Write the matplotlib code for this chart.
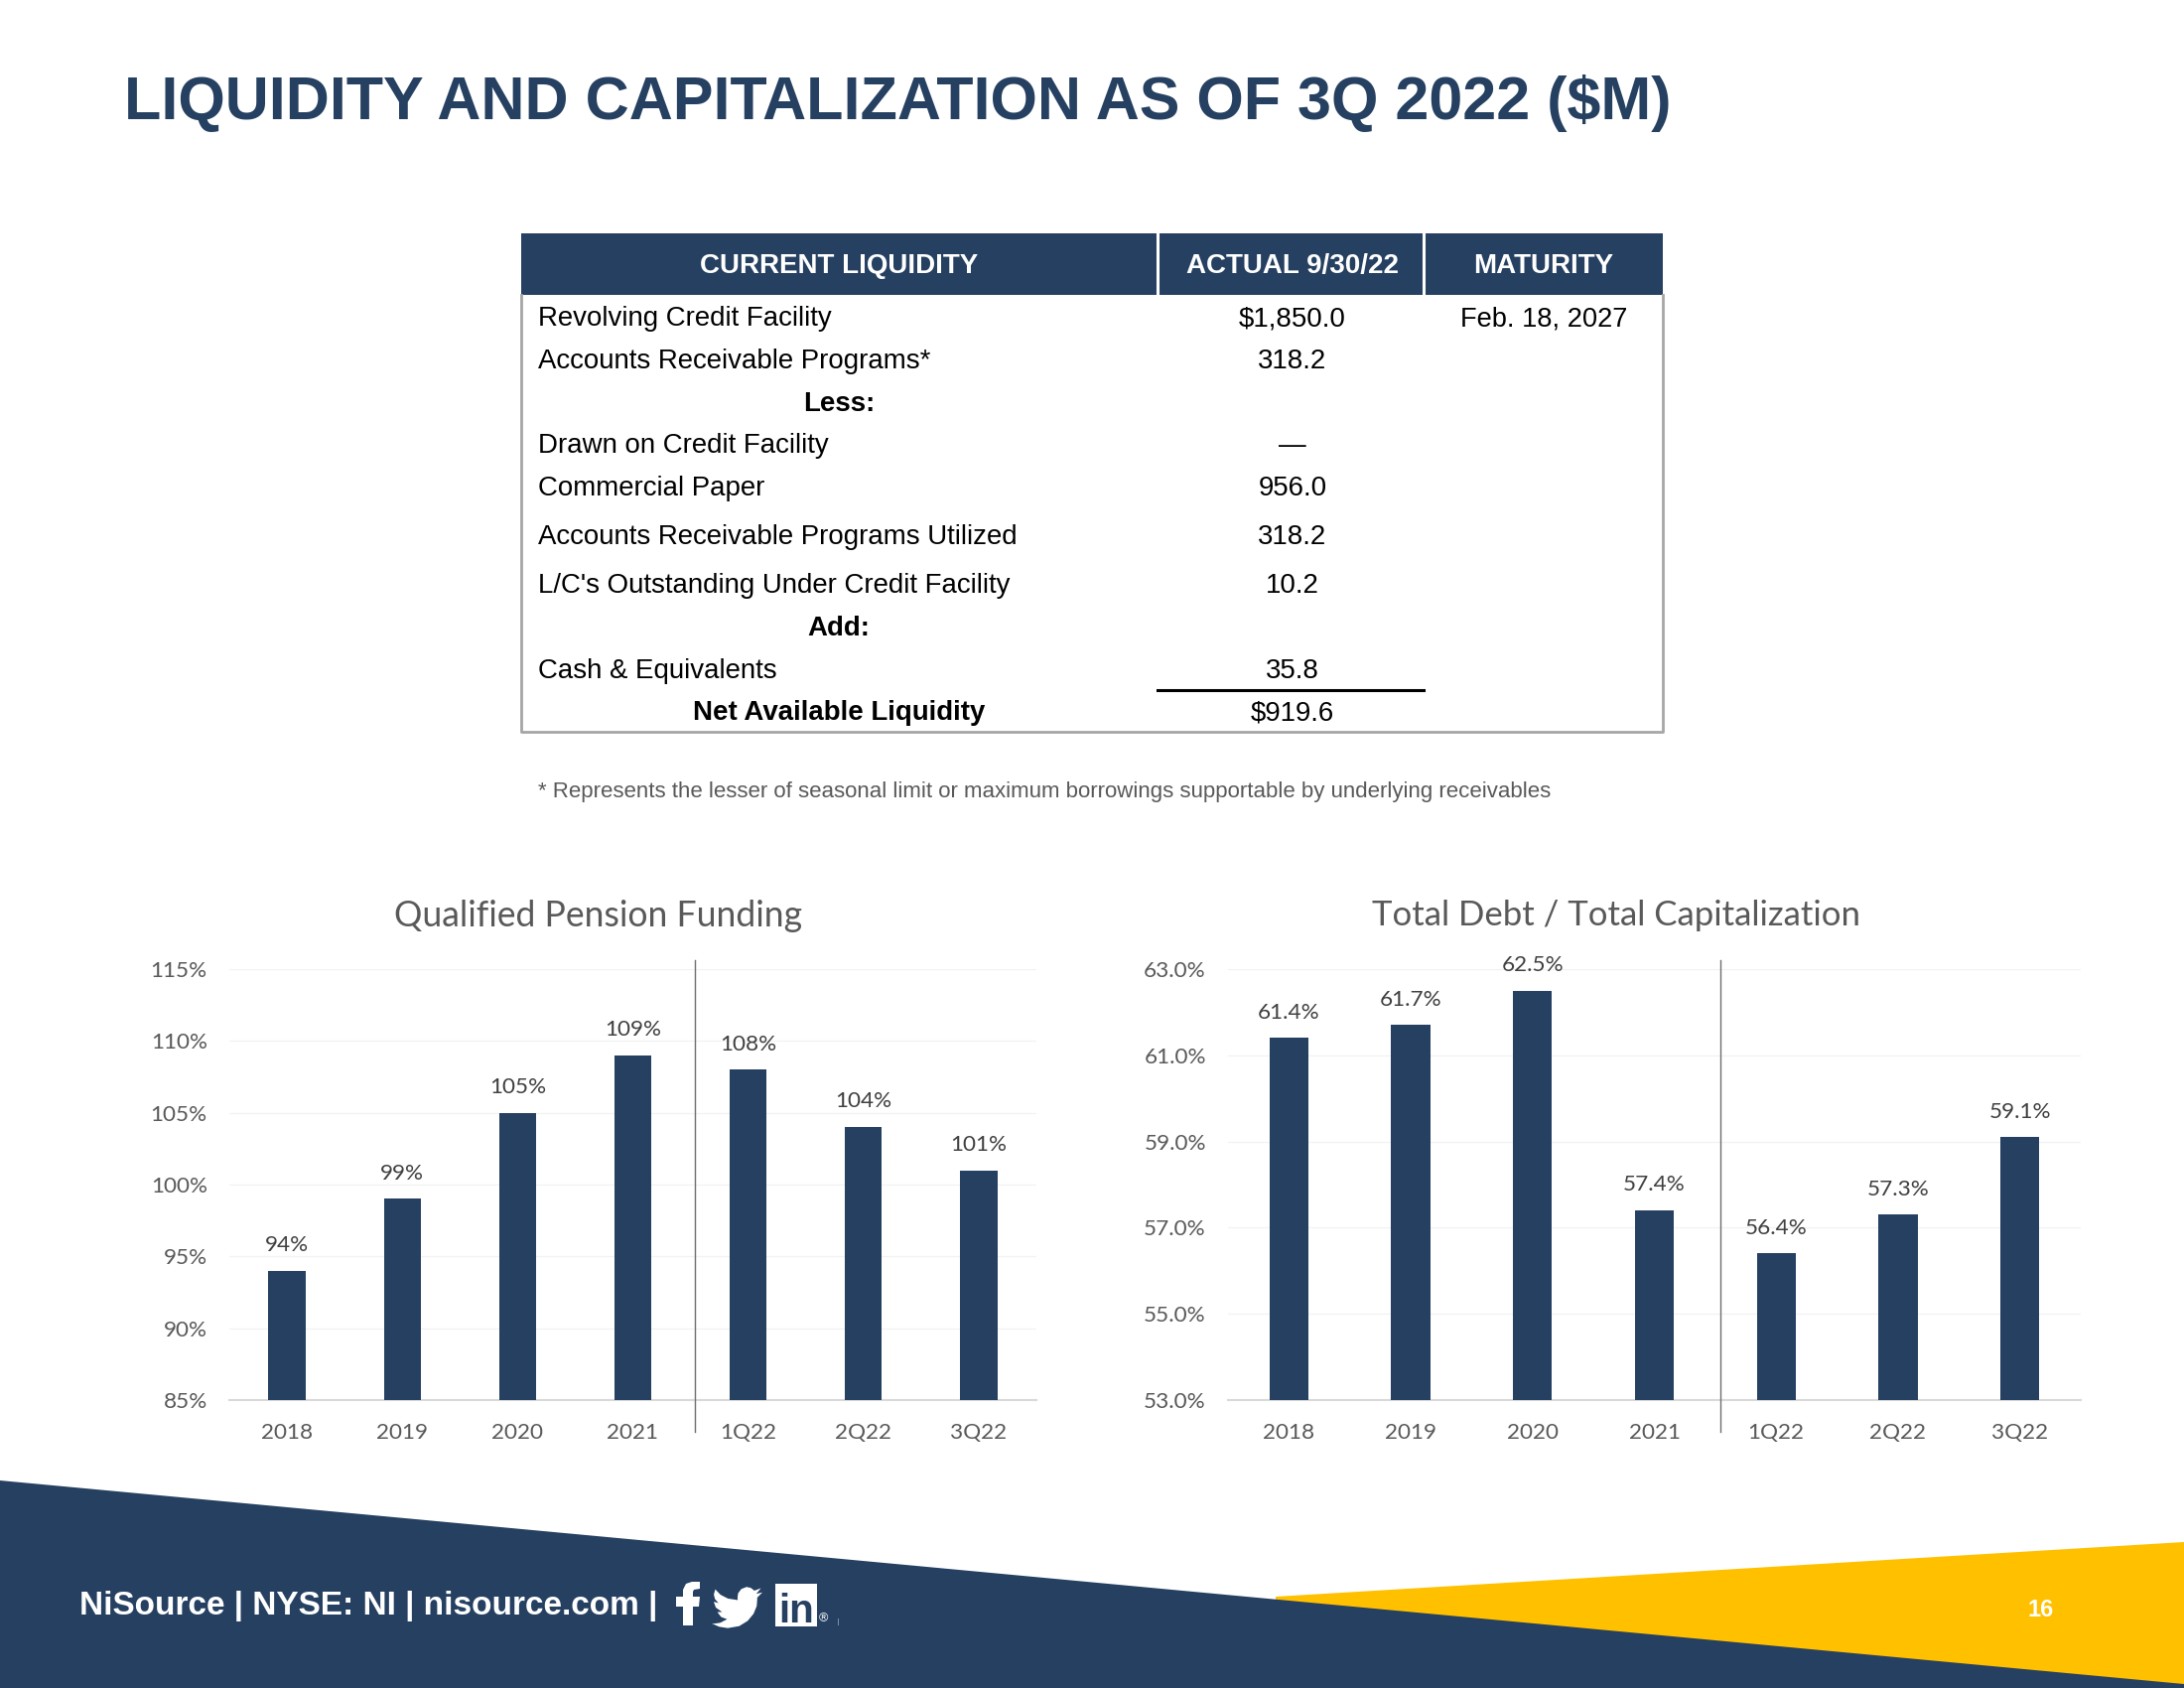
import matplotlib
matplotlib.use("Agg")
import matplotlib.pyplot as plt
from matplotlib.patches import Polygon, Rectangle
from matplotlib.lines import Line2D
import numpy as np

NAVY = "#264061"
GOLD = "#FFC000"
GRAY = "#595959"
SANS = "Liberation Sans"
CHART = "Lato"

# ---- data ----
title_text = "LIQUIDITY AND CAPITALIZATION AS OF 3Q 2022 ($M)"
table_headers = ["CURRENT LIQUIDITY", "ACTUAL 9/30/22", "MATURITY"]
row_labels = ["Revolving Credit Facility", "Accounts Receivable Programs*", "Less:",
              "Drawn on Credit Facility", "Commercial Paper",
              "Accounts Receivable Programs Utilized",
              "L/C's Outstanding Under Credit Facility", "Add:",
              "Cash & Equivalents", "Net Available Liquidity"]
row_actual = ["$1,850.0", "318.2", "", "—", "956.0", "318.2", "10.2", "", "35.8", "$919.6"]
row_maturity = ["Feb. 18, 2027", "", "", "", "", "", "", "", "", ""]
bold_rows = ["Less:", "Add:", "Net Available Liquidity"]
footnote = "* Represents the lesser of seasonal limit or maximum borrowings supportable by underlying receivables"

categories = ["2018", "2019", "2020", "2021", "1Q22", "2Q22", "3Q22"]
pension_values = [94, 99, 105, 109, 108, 104, 101]
pension_ticks = [85, 90, 95, 100, 105, 110, 115]
debt_values = [61.4, 61.7, 62.5, 57.4, 56.4, 57.3, 59.1]
debt_ticks = [53, 55, 57, 59, 61, 63]

pension_title = "Qualified Pension Funding"
debt_title = "Total Debt / Total Capitalization"
footer_text = "NiSource | NYSE: NI | nisource.com |"
page_number = "16"

# ---- layout ----
W, H = 2200, 1700
fig = plt.figure(figsize=(22, 17), dpi=100, facecolor="white")
bg = fig.add_axes([0, 0, 1, 1], zorder=0)
bg.set_xlim(0, W); bg.set_ylim(H, 0); bg.axis("off")

bg.text(125, 97, title_text, family=SANS, weight="bold", fontsize=43.9, color=NAVY, ha="left", va="center_baseline")

# table
L, R, T, HB, B = 524.5, 1675, 235, 297, 737
C1, C2 = 1166, 1434
bg.add_patch(Rectangle((L, T), R - L, HB - T, fc=NAVY, ec="none"))
bg.plot([C1, C1], [T, HB], color="white", lw=2.2)
bg.plot([C2, C2], [T, HB], color="white", lw=2.2)
bg.plot([L, L, R, R], [HB, B, B, HB], color="#A6A6A6", lw=2)
col_x = [845, 1302, 1555]
for x, h in zip(col_x, table_headers):
    bg.text(x, 265, h, family=SANS, weight="bold", fontsize=20, color="white", ha="center", va="center_baseline")
row_y = [318, 361, 404, 446, 489, 538, 587, 630, 673, 715]
for y, lab, a, m in zip(row_y, row_labels, row_actual, row_maturity):
    if lab in bold_rows:
        bg.text(col_x[0], y, lab, family=SANS, weight="bold", fontsize=19.9, color="black", ha="center", va="center_baseline")
    else:
        bg.text(542, y, lab, family=SANS, fontsize=19.9, color="black", ha="left", va="center_baseline")
    bg.text(col_x[1], y, a, family=SANS, fontsize=19.9, color="black", ha="center", va="center_baseline")
    bg.text(col_x[2], y, m, family=SANS, fontsize=19.6, color="black", ha="center", va="center_baseline")
bg.plot([C1, C2], [694.5, 694.5], color="black", lw=2.2)
bg.text(542, 794.5, footnote, family=SANS, fontsize=16.0, color=GRAY, ha="left", va="center_baseline")

# footer shapes
bg.add_patch(Polygon([(1285, 1608), (W, 1553), (W, 1700), (1285, 1700)], fc=GOLD, ec="none", zorder=1))
bg.add_patch(Polygon([(0, 1491), (W, 1696), (W, 1700), (0, 1700)], fc=NAVY, ec="none", zorder=2))
bg.text(80, 1614, footer_text, family=SANS, weight="bold", fontsize=24, color="white", ha="left", va="center_baseline", zorder=3)
bg.text(2056, 1619, page_number, family=SANS, weight="bold", fontsize=17, color="white", ha="center", va="center_baseline", zorder=3)

# social icons
f_icon = [(688, 1637), (698, 1637), (698, 1618), (704, 1618), (705, 1608), (698, 1608), (698, 1603), (699, 1601),
          (705, 1600), (705, 1593), (697, 1593), (691, 1595), (688, 1601), (688, 1608), (681, 1608), (681, 1618), (688, 1618)]
bg.add_patch(Polygon(f_icon, fc="white", ec="none", zorder=3))
bird = np.array([(24, 4.6), (21.1, 5.35), (23.3, 2.6), (20.2, 3.8), (18.6, 2.5), (16.5, 2.0), (14, 3), (12.5, 5),
                 (12.2, 7), (12.3, 8.3), (7.7, 7.6), (4.2, 5.8), (1.64, 3.16), (0.97, 5.64), (1.5, 7.8), (3.16, 9.73),
                 (0.93, 9.12), (1.9, 11.9), (4.88, 14.0), (2.67, 14.09), (4.4, 16.4), (7.27, 17.5), (4, 19.2),
                 (1.17, 19.6), (0, 19.54), (3.5, 21.1), (7.56, 21.75), (13, 20.8), (17, 18.3), (19.8, 14.9),
                 (21.3, 11.2), (21.55, 7.77), (21.54, 7.14)])
bg.add_patch(Polygon(np.c_[717 + bird[:, 0] * 2.125, 1594 + bird[:, 1] * 2.1], fc="white", ec="none", zorder=3))
bg.add_patch(Rectangle((781, 1595), 42, 43, fc="white", ec="none", zorder=3))
bg.text(802, 1619, "in", family=SANS, weight="bold", fontsize=29, color=NAVY, ha="center", va="center_baseline", zorder=4)
bg.text(829, 1629, "®", family=SANS, fontsize=9, color="white", ha="center", va="center_baseline", zorder=3)
bg.plot([844, 844], [1630, 1636], color="#8090A5", lw=0.7, zorder=3)


def bar_chart(x0, x1, values, ticks, title, title_x, fmt, tick_fmt, divider_x, ylim):
    y0, y1 = 976, 1410
    ax = fig.add_axes([x0 / W, 1 - y1 / H, (x1 - x0) / W, (y1 - y0) / H], zorder=1)
    ax.patch.set_alpha(0)
    pos = np.arange(len(values))
    ax.bar(pos, values, width=0.32, color=NAVY, zorder=3)
    ax.set_xlim(-0.5, len(values) - 0.5)
    ax.set_ylim(*ylim)
    ax.set_yticks(ticks)
    ax.set_yticklabels([tick_fmt.format(t) for t in ticks], family=CHART, fontsize=16.2, color=GRAY)
    ax.set_xticks(pos)
    ax.set_xticklabels(categories, family=CHART, fontsize=16.2, color=GRAY)
    ax.tick_params(axis="both", length=0)
    ax.tick_params(axis="y", pad=16)
    ax.tick_params(axis="x", pad=16.5)
    ax.grid(axis="y", color="#F2F2F2", lw=0.9, zorder=0)
    ax.set_axisbelow(True)
    for s in ["top", "right", "left"]:
        ax.spines[s].set_visible(False)
    ax.spines["bottom"].set_color("#D9D9D9")
    ax.spines["bottom"].set_linewidth(1.5)
    for p, v in zip(pos, values):
        ax.annotate(fmt.format(v), (p, v), xytext=(0, 18.5), textcoords="offset points", ha="center",
                    va="center", family=CHART, fontsize=16.2, color="#404040", annotation_clip=False)
    fig.add_artist(Line2D([divider_x / W] * 2, [1 - 967 / H, 1 - 1442 / H], color="#6E6E6E", lw=1.0,
                          transform=fig.transFigure, zorder=5))
    bg.text(title_x, 919, title, family=CHART, fontsize=25.6 if title == pension_title else 25, color=GRAY,
            ha="center", va="center_baseline")


bar_chart(231, 1044, pension_values, pension_ticks, pension_title, 603, "{:d}%", "{:d}%", 699.5, (85, 115))
bar_chart(1237, 2096, debt_values, debt_ticks, debt_title, 1628, "{:.1f}%", "{:.1f}%", 1733, (53, 63))

fig.savefig("out.png", dpi=100)
